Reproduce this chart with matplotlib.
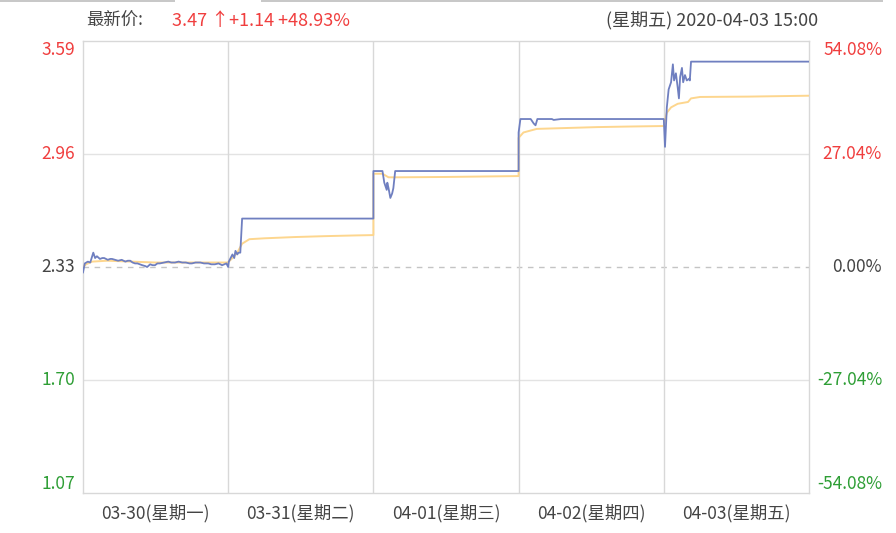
import matplotlib
matplotlib.use("Agg")
import matplotlib.pyplot as plt
from matplotlib.patches import Rectangle
import matplotlib.transforms as mtransforms

plt.rcParams['font.family'] = ['Noto Sans CJK SC', 'DejaVu Sans']

# ---------------- data ----------------
prev_close = 2.33
y_ticks = [1.07, 1.70, 2.33, 2.96, 3.59]
pct_labels = ["-54.08%", "-27.04%", "0.00%", "27.04%", "54.08%"]
day_labels = ["03-30(星期一)", "03-31(星期二)", "04-01(星期三)", "04-02(星期四)", "04-03(星期五)"]
minutes_per_day = 240

# price line: minute index (0..1200 over 5 sessions) and price
price_t = [0, 3, 8, 12, 17, 20, 23, 28, 32, 35, 41, 45, 48, 53, 58, 64, 70, 74, 78, 82, 86, 90, 94, 98,
           103, 106, 111, 115, 119, 123, 127, 134, 141, 146, 152, 158, 164, 170, 176, 180, 186, 194, 200,
           207, 212, 218, 224, 230, 237, 240,
           241, 247, 250, 252, 255, 257, 260, 263, 480,
           480, 495, 498, 502, 503, 505, 508, 511, 513, 516, 720,
           720, 723, 740, 745, 748, 751, 775, 778, 790, 960,
           960, 962, 965, 968, 972, 975, 977, 980, 983, 985, 987, 990, 992, 995, 998, 1002, 1003, 1005, 1200]
price_v = [2.30, 2.35, 2.36, 2.355, 2.41, 2.38, 2.39, 2.375, 2.38, 2.38, 2.37, 2.375, 2.375, 2.37, 2.365,
           2.37, 2.36, 2.365, 2.365, 2.355, 2.35, 2.35, 2.345, 2.34,
           2.335, 2.33, 2.345, 2.34, 2.34, 2.35, 2.35, 2.355, 2.36, 2.355, 2.355, 2.36, 2.355, 2.355, 2.35,
           2.35, 2.355, 2.355, 2.35,
           2.35, 2.345, 2.345, 2.35, 2.34, 2.35, 2.33,
           2.36, 2.40, 2.38, 2.42, 2.40, 2.41, 2.41, 2.60, 2.60,
           2.865, 2.865, 2.80, 2.76, 2.80, 2.77, 2.715, 2.74, 2.77, 2.865, 2.865,
           3.08, 3.155, 3.155, 3.13, 3.12, 3.155, 3.155, 3.15, 3.155, 3.155,
           3.155, 3.00, 3.22, 3.32, 3.36, 3.46, 3.37, 3.41, 3.33, 3.27, 3.39, 3.44, 3.36, 3.40, 3.37,
           3.38, 3.37, 3.475, 3.475]

# average price line
avg_t = [0, 5, 15, 40, 80, 120, 160, 200, 240,
         241, 247, 255, 263, 275, 300, 350, 400, 450, 480,
         480, 495, 505, 520, 600, 720,
         720, 728, 750, 800, 850, 900, 960,
         960, 962, 965, 972, 983, 1000, 1005, 1020, 1100, 1200]
avg_v = [2.33, 2.345, 2.36, 2.365, 2.36, 2.355, 2.355, 2.355, 2.355,
         2.36, 2.38, 2.41, 2.46, 2.485, 2.49, 2.497, 2.502, 2.506, 2.508,
         2.85, 2.85, 2.83, 2.83, 2.832, 2.837,
         3.05, 3.08, 3.10, 3.105, 3.11, 3.113, 3.116,
         3.116, 3.15, 3.19, 3.22, 3.24, 3.25, 3.27, 3.278, 3.28, 3.285]

header_label = "最新价:"
header_value = "3.47 ↑+1.14 +48.93%"
header_time = "(星期五) 2020-04-03 15:00"

# ---------------- style ----------------
RED = '#f03e3e'
GREEN = '#2e9e35'
GRAY_TXT = '#444444'
BLUE = '#6f7fc0'
ORANGE = '#fdd68e'
GRID = '#e3e3e3'

W, H = 896, 533
fig = plt.figure(figsize=(W / 100, H / 100), dpi=100)
ax = fig.add_axes([83 / W, 1 - 493 / H, (809 - 83) / W, (493 - 41) / H])

ax.set_xlim(0, 5 * minutes_per_day)
ax.set_ylim(y_ticks[0], y_ticks[-1])

for s in ax.spines.values():
    s.set_color('#d8d8d8')
    s.set_linewidth(1.0)

# grid
for y in y_ticks[1:-1]:
    if y == prev_close:
        ax.axhline(y, color='#c4c4c4', lw=1.0, ls=(0, (4, 4)), zorder=1)
    else:
        ax.axhline(y, color=GRID, lw=1.0, zorder=1)
for d in range(1, 5):
    ax.axvline(d * minutes_per_day, color='#d8d8d8', lw=1.0, zorder=1)

ax.plot(avg_t, avg_v, color=ORANGE, lw=1.4, zorder=3)
ax.plot(price_t, price_v, color=BLUE, lw=1.3, zorder=4)

ax.set_xticks([])
ax.set_yticks([])

# y labels
trans_l = mtransforms.blended_transform_factory(fig.transFigure, ax.transData)
colors = [GREEN, GREEN, GRAY_TXT, RED, RED]
for i, (y, lab, c) in enumerate(zip(y_ticks, pct_labels, colors)):
    va = 'center'
    if i == 0:
        va = 'bottom'
    elif i == len(y_ticks) - 1:
        va = 'top'
    ax.text(75 / W, y, f"{y:.2f}", transform=trans_l, ha='right', va=va, color=c, fontsize=12.5)
    ax.text(882 / W, y, lab, transform=trans_l, ha='right', va=va, color=c, fontsize=12.5)

# x labels
for i, lab in enumerate(day_labels):
    ax.text((i + 0.5) * minutes_per_day, -0.025, lab, transform=ax.get_xaxis_transform(),
            ha='center', va='top', fontsize=12.5, color=GRAY_TXT)

# header
fig.text(86 / W, 1 - 21 / H, header_label, ha='left', va='center', fontsize=12.5, color=GRAY_TXT)
fig.text(172 / W, 1 - 21 / H, header_value, ha='left', va='center', fontsize=13, color=RED)
fig.text(818 / W, 1 - 21 / H, header_time, ha='right', va='center', fontsize=13, color=GRAY_TXT)

# top tab bar
fig.add_artist(Rectangle((0, 1 - 2 / H), 175 / W, 2 / H, transform=fig.transFigure,
                         color='#c8c8c8', lw=0))
fig.add_artist(Rectangle((261 / W, 1 - 2 / H), (883 - 261) / W, 2 / H, transform=fig.transFigure,
                         color='#c8c8c8', lw=0))

fig.savefig("out.png", dpi=100)
